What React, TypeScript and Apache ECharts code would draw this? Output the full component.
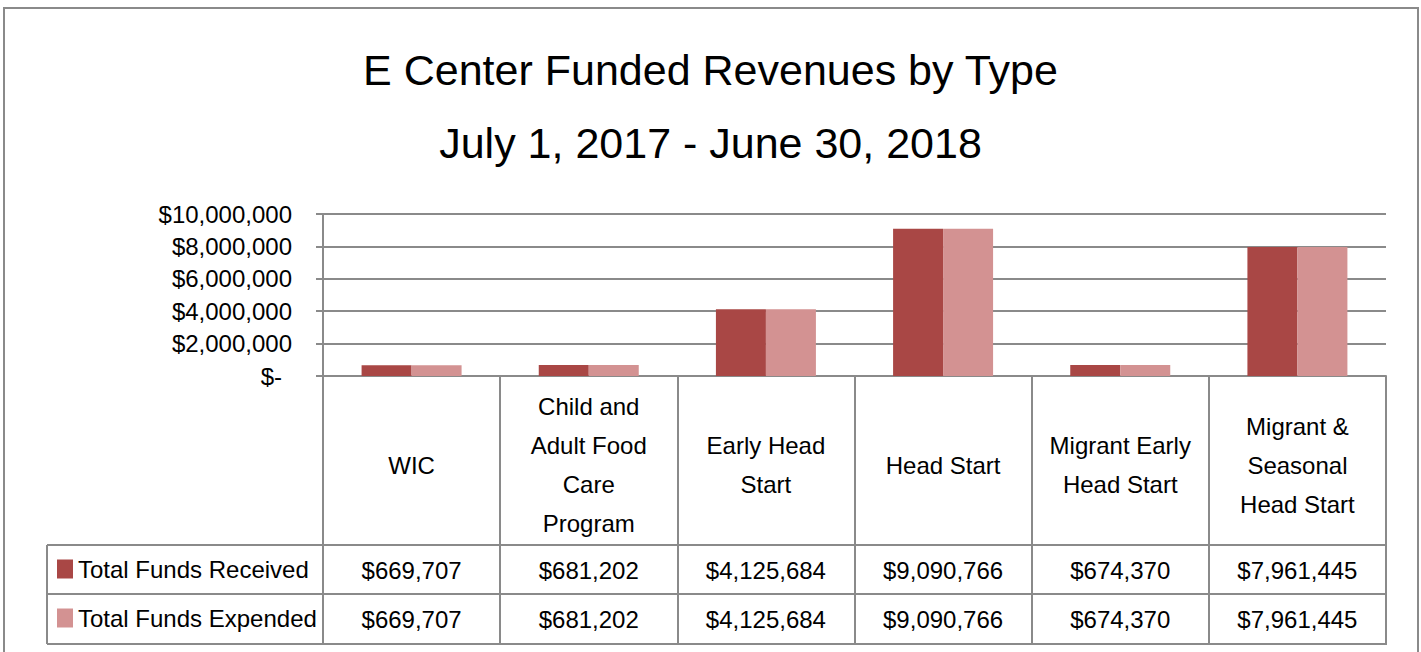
import React, { useEffect, useRef } from "react";
import * as echarts from "echarts";

const titleLines = ["E Center Funded Revenues by Type", "July 1, 2017 - June 30, 2018"];
const categories = [
  "WIC",
  "Child and\nAdult Food\nCare\nProgram",
  "Early Head\nStart",
  "Head Start",
  "Migrant Early\nHead Start",
  "Migrant &\nSeasonal\nHead Start",
];
const seriesNames = ["Total Funds Received", "Total Funds Expended"];
const received = [669707, 681202, 4125684, 9090766, 674370, 7961445];
const expended = [669707, 681202, 4125684, 9090766, 674370, 7961445];
const yMin = 0;
const yMax = 10000000;
const yInterval = 2000000;

const FONT = "'Liberation Sans', Arial, sans-serif";
const GRAY = "#8a8a8a";
const COLORS = ["#a94745", "#d39292"];

const money = (v: number) => "$" + v.toLocaleString("en-US");

export default function App() {
  const ref = useRef<HTMLDivElement>(null);
  useEffect(() => {
    document.body.style.margin = "0";
    if (!ref.current) return;
    const chart = echarts.init(ref.current, undefined, { renderer: "svg" });
    const gridLeft = 323;
    const gridRight = 1386;
    const axisY = 376;
    const row1 = 545;
    const row2 = 594;
    const row3 = 644;
    const tableLeft = 47;
    const valueAxis = (offset: number, vals: number[]) => ({
      type: "category",
      data: categories,
      position: "bottom",
      offset,
      axisLine: { show: false },
      axisTick: { show: false },
      axisLabel: {
        interval: 0,
        margin: 25,
        verticalAlign: "middle",
        fontFamily: FONT,
        fontSize: 24,
        color: "#000",
        formatter: (_v: string, i: number) => money(vals[i]),
      },
    });
    chart.setOption({
      animation: false,
      title: {
        text: titleLines.join("\n"),
        left: "center",
        top: 28,
        textStyle: {
          fontFamily: FONT,
          fontSize: 43,
          fontWeight: "normal",
          lineHeight: 73,
          color: "#000",
        },
      },
      legend: {
        orient: "vertical",
        left: 57,
        top: 557,
        padding: 0,
        itemWidth: 16,
        itemHeight: 19,
        itemGap: 25,
        itemTextGap: 6,
        icon: "rect",
        data: seriesNames,
        textStyle: { fontFamily: FONT, fontSize: 24, color: "#000", lineHeight: 19 },
      },
      grid: {
        left: gridLeft,
        right: 1421 - gridRight,
        top: 214,
        bottom: 652 - axisY,
        containLabel: false,
      },
      xAxis: [
        {
          type: "category",
          data: categories,
          position: "bottom",
          axisLine: { show: true, lineStyle: { color: GRAY, width: 2 } },
          axisTick: {
            show: true,
            interval: 0,
            length: row3 - axisY,
            lineStyle: { color: GRAY, width: 2 },
          },
          axisLabel: {
            interval: 0,
            margin: 89,
            verticalAlign: "middle",
            fontFamily: FONT,
            fontSize: 24,
            lineHeight: 39,
            color: "#000",
          },
        },
        valueAxis(row1 - axisY, received),
        valueAxis(row2 - axisY, expended),
      ],
      yAxis: {
        type: "value",
        min: yMin,
        max: yMax,
        interval: yInterval,
        axisLine: { show: true, lineStyle: { color: GRAY, width: 2 } },
        axisTick: { show: true, length: 7, lineStyle: { color: GRAY, width: 2 } },
        splitLine: { show: true, lineStyle: { color: GRAY, width: 2 } },
        axisLabel: {
          margin: 31,
          fontFamily: FONT,
          fontSize: 24,
          color: "#000",
          formatter: (v: number) => (v === 0 ? "{z|$-}" : money(v)),
          rich: { z: { fontFamily: FONT, fontSize: 24, color: "#000", padding: [0, 10, 0, 0] } },
        },
      },
      series: [
        {
          name: seriesNames[0],
          type: "bar",
          data: received,
          barWidth: 50,
          barGap: "0%",
          itemStyle: { color: COLORS[0] },
        },
        {
          name: seriesNames[1],
          type: "bar",
          data: expended,
          barWidth: 50,
          barGap: "0%",
          itemStyle: { color: COLORS[1] },
        },
      ],
      graphic: [
        {
          type: "rect",
          shape: { x: 4, y: 8, width: 1414, height: 670 },
          style: { fill: "none", stroke: GRAY, lineWidth: 2 },
          silent: true,
        },
        ...[row1, row2, row3].map((y) => ({
          type: "line",
          shape: { x1: tableLeft, y1: y, x2: gridRight + 1, y2: y },
          style: { stroke: GRAY, lineWidth: 2 },
          silent: true,
        })),
        {
          type: "line",
          shape: { x1: tableLeft, y1: row1, x2: tableLeft, y2: row3 },
          style: { stroke: GRAY, lineWidth: 2 },
          silent: true,
        },
      ],
    });
    return () => chart.dispose();
  }, []);
  return <div ref={ref} style={{ width: 1421, height: 652 }} />;
}
